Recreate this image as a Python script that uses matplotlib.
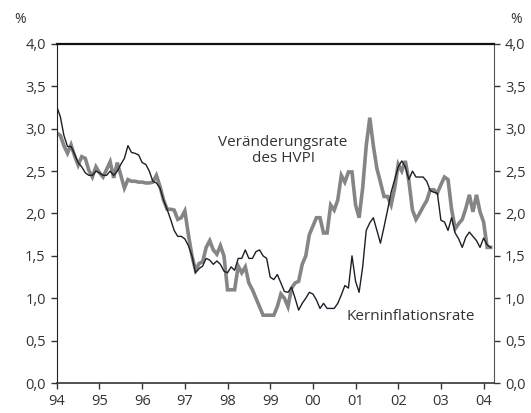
import numpy as np
import matplotlib
matplotlib.use('Agg')
import matplotlib.pyplot as plt

# monthly values Jan 1994 - Mar 2004
hvpi = [2.95, 2.92, 2.80, 2.71, 2.81, 2.68, 2.57, 2.67, 2.65, 2.51, 2.43, 2.55,   # 1994
        2.48, 2.43, 2.52, 2.61, 2.42, 2.60, 2.45, 2.30, 2.40, 2.38, 2.38, 2.37,   # 1995
        2.37, 2.36, 2.36, 2.37, 2.45, 2.32, 2.16, 2.05, 2.05, 2.04, 1.93, 1.95,   # 1996
        2.03, 1.75, 1.50, 1.33, 1.41, 1.43, 1.60, 1.68, 1.57, 1.52, 1.62, 1.50,   # 1997
        1.10, 1.10, 1.10, 1.38, 1.30, 1.37, 1.18, 1.10, 1.00, 0.90, 0.80, 0.80,   # 1998
        0.80, 0.80, 0.90, 1.05, 1.00, 0.90, 1.12, 1.18, 1.20, 1.40, 1.50, 1.75,   # 1999
        1.85, 1.95, 1.95, 1.77, 1.77, 2.10, 2.04, 2.16, 2.45, 2.37, 2.49, 2.49,   # 2000
        2.10, 1.95, 2.30, 2.80, 3.13, 2.80, 2.53, 2.37, 2.20, 2.20, 2.10, 2.30,   # 2001
        2.58, 2.50, 2.62, 2.38, 2.04, 1.93, 2.00, 2.08, 2.15, 2.28, 2.28, 2.24,   # 2002
        2.34, 2.43, 2.40, 2.05, 1.82, 1.88, 1.93, 2.06, 2.22, 2.02, 2.22, 2.02,   # 2003
        1.90, 1.60, 1.60]                                                         # 2004

kern = [3.26, 3.14, 2.92, 2.79, 2.79, 2.70, 2.60, 2.55, 2.48, 2.45, 2.45, 2.50,
        2.48, 2.45, 2.45, 2.50, 2.45, 2.50, 2.58, 2.65, 2.80, 2.72, 2.71, 2.69,
        2.60, 2.58, 2.50, 2.38, 2.36, 2.30, 2.16, 2.05, 1.93, 1.80, 1.73, 1.73,
        1.70, 1.62, 1.50, 1.30, 1.35, 1.38, 1.47, 1.45, 1.40, 1.44, 1.40, 1.32,
        1.30, 1.37, 1.33, 1.47, 1.47, 1.57, 1.47, 1.47, 1.55, 1.57, 1.50, 1.47,
        1.25, 1.22, 1.28, 1.18, 1.08, 1.07, 1.13, 1.00, 0.86, 0.94, 1.00, 1.07,
        1.05, 0.98, 0.88, 0.94, 0.88, 0.88, 0.88, 0.94, 1.04, 1.15, 1.12, 1.50,
        1.20, 1.07, 1.37, 1.80, 1.89, 1.95, 1.80, 1.65, 1.84, 2.04, 2.25, 2.40,
        2.55, 2.62, 2.55, 2.40, 2.50, 2.43, 2.43, 2.43, 2.38, 2.27, 2.25, 2.24,
        1.92, 1.90, 1.80, 1.95, 1.77, 1.70, 1.60, 1.72, 1.78, 1.73, 1.68, 1.60,
        1.71, 1.63, 1.60]

year_labels = ['94', '95', '96', '97', '98', '99', '00', '01', '02', '03', '04']
y_labels = ['0,0', '0,5', '1,0', '1,5', '2,0', '2,5', '3,0', '3,5', '4,0']

plt.rcParams['font.family'] = ['Open Sans', 'DejaVu Sans']
txt = '#333333'

t = 1994 + np.arange(len(hvpi)) / 12.0

fig = plt.figure(figsize=(5.31, 4.13), dpi=100)
ax = fig.add_axes([0.107, 0.0726, 0.823, 0.821])

ax.plot(t, hvpi, color='#858585', lw=2.6, solid_joinstyle='miter', zorder=2)
ax.plot(t, kern, color='#1e1e2a', lw=1.0, zorder=3)

ax.set_xlim(1994, 2004.24)
ax.set_ylim(0, 4)
ax.set_xticks(np.arange(1994, 2005))
ax.set_xticklabels(year_labels)
ax.set_yticks(np.arange(0, 4.01, 0.5))
ax.set_yticklabels(y_labels)

ax.tick_params(axis='both', labelsize=10.5, colors=txt, length=4, width=1, direction='out')
ax.tick_params(axis='y', which='both', right=True, labelright=True, pad=4)
ax.tick_params(axis='x', pad=4)

ax.spines['top'].set_linewidth(1.6)
ax.spines['top'].set_color('#111111')
ax.spines['left'].set_color('#222222')
ax.spines['bottom'].set_color('#333333')
ax.spines['bottom'].set_linewidth(1.2)
ax.spines['right'].set_color('#555555')
ax.spines['right'].set_linewidth(0.8)

fig.text(0.027, 0.952, '%', fontsize=10, color=txt, ha='left', va='center')
fig.text(0.983, 0.952, '%', fontsize=10, color=txt, ha='right', va='center')

ax.text(1999.3, 2.74, 'Veränderungsrate\ndes HVPI', fontsize=11, color=txt,
        ha='center', va='center', linespacing=1.1)
ax.text(2002.3, 0.79, 'Kerninflationsrate', fontsize=11, color=txt,
        ha='center', va='center')

fig.savefig('out.png', dpi=100)
